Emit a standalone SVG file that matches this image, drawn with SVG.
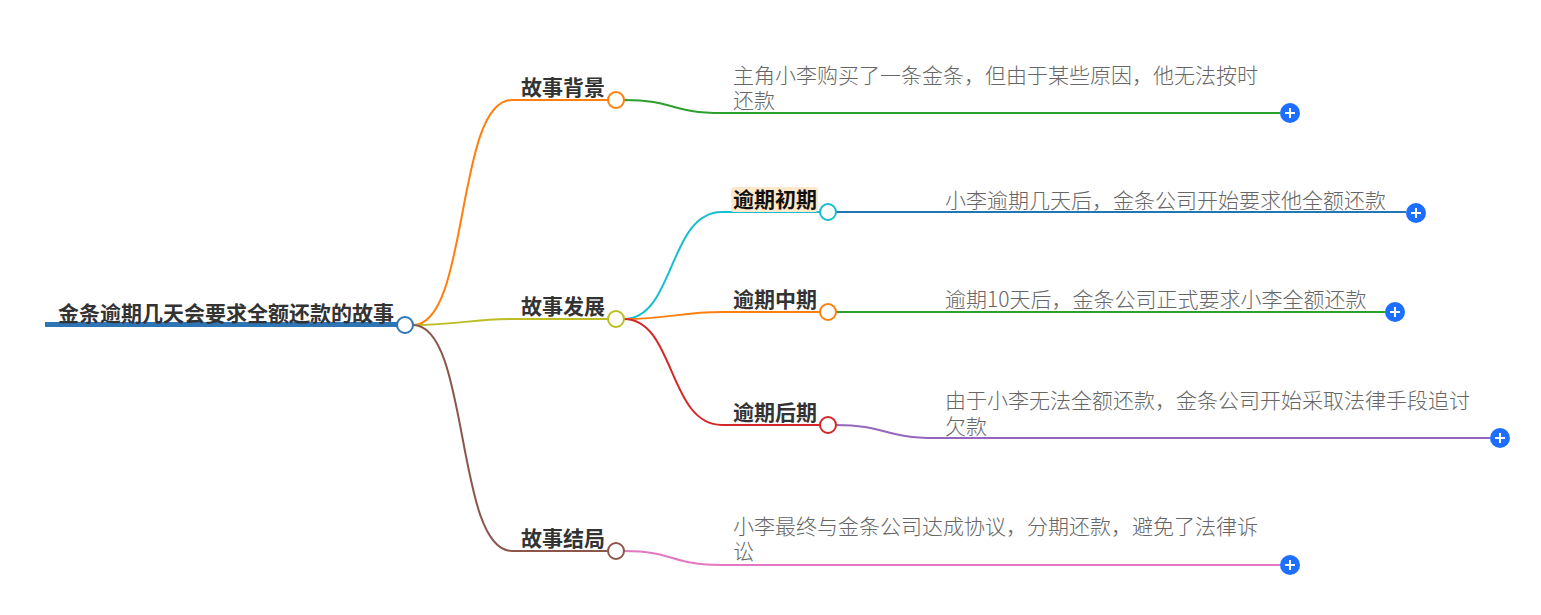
<svg xmlns="http://www.w3.org/2000/svg" width="1541" height="615" viewBox="0 0 1541 615">
<style>
text{font-family:"Noto Sans CJK SC","Noto Sans",sans-serif;font-size:21px}
.root{font-weight:bold;fill:#333}
.br{font-weight:bold;fill:#333}
.leaf{fill:#666;font-weight:300}
.c{fill:none;stroke-width:2}
.dot{fill:#fff;stroke-width:2}
.plus{fill:#1e6fff}
.pl{stroke:#fff;stroke-width:2;fill:none}
</style>
<rect width="1541" height="615" fill="#fff"/>
<g id="connectors">
<path class="c" stroke="#ff7f0e" d="M413,325 C470,325 455,100 512,100 L608,100"/>
<path class="c" stroke="#bcbd22" d="M413,325 C460,325 470,319 512,319 L608,319"/>
<path class="c" stroke="#8c564b" d="M413,325 C470,325 455,551 512,551 L608,551"/>
<path class="c" stroke="#2ca02c" d="M624,100 C675,100 670,113 722,113 L1280,113"/>
<path class="c" stroke="#17becf" d="M624,319 C675,319 668,212 722,212 L820,212"/>
<path class="c" stroke="#ff7f0e" d="M624,319 C670,319 680,312 722,312 L820,312"/>
<path class="c" stroke="#d62728" d="M624,319 C675,319 668,425 722,425 L820,425"/>
<path class="c" stroke="#e377c2" d="M624,551 C675,551 670,565 722,565 L1280,565"/>
<path class="c" stroke="#1f77b4" d="M836,212 L1406,212"/>
<path class="c" stroke="#2ca02c" d="M836,312 L1385,312"/>
<path class="c" stroke="#9467bd" d="M836,425 C885,425 885,438 935,438 L1490,438"/>
</g>
<g id="root">
<rect x="45" y="322" width="352" height="5" fill="#2e75b6"/>
<text class="root" x="58" y="321">金条逾期几天会要求全额还款的故事</text>
<circle class="dot" cx="405" cy="325" r="8" stroke="#2e75b6"/>
</g>
<g id="n-bg">
<text class="br" x="521" y="95">故事背景</text>
<circle class="dot" cx="616" cy="100" r="8" stroke="#ff7f0e"/>
</g>
<g id="n-fz">
<text class="br" x="521" y="314">故事发展</text>
<circle class="dot" cx="616" cy="319" r="8" stroke="#bcbd22"/>
</g>
<g id="n-jj">
<text class="br" x="521" y="546">故事结局</text>
<circle class="dot" cx="616" cy="551" r="8" stroke="#8c564b"/>
</g>
<g id="n-cq">
<rect x="731" y="187" width="87" height="25" rx="3" fill="#fde8cc"/>
<text class="br" x="733" y="207" style="fill:#111">逾期初期</text>
<circle class="dot" cx="828" cy="212" r="8" stroke="#17becf"/>
</g>
<g id="n-zq">
<text class="br" x="733" y="307">逾期中期</text>
<circle class="dot" cx="828" cy="312" r="8" stroke="#ff7f0e"/>
</g>
<g id="n-hq">
<text class="br" x="733" y="420">逾期后期</text>
<circle class="dot" cx="828" cy="425" r="8" stroke="#d62728"/>
</g>
<g id="l-bg">
<text class="leaf" x="733" y="83">主角小李购买了一条金条，但由于某些原因，他无法按时<tspan x="733" dy="25">还款</tspan></text>
<circle class="plus" cx="1290" cy="113" r="10"/>
<path class="pl" d="M1285,113 H1295 M1290,108 V118"/>
</g>
<g id="l-cq">
<text class="leaf" x="945" y="208">小李逾期几天后，金条公司开始要求他全额还款</text>
<circle class="plus" cx="1416" cy="213" r="10"/>
<path class="pl" d="M1411,213 H1421 M1416,208 V218"/>
</g>
<g id="l-zq">
<text class="leaf" x="945" y="307">逾期10天后，金条公司正式要求小李全额还款</text>
<circle class="plus" cx="1395" cy="312" r="10"/>
<path class="pl" d="M1390,312 H1400 M1395,307 V317"/>
</g>
<g id="l-hq">
<text class="leaf" x="945" y="408">由于小李无法全额还款，金条公司开始采取法律手段追讨<tspan x="945" dy="26">欠款</tspan></text>
<circle class="plus" cx="1500" cy="438" r="10"/>
<path class="pl" d="M1495,438 H1505 M1500,433 V443"/>
</g>
<g id="l-jj">
<text class="leaf" x="733" y="534">小李最终与金条公司达成协议，分期还款，避免了法律诉<tspan x="733" dy="25">讼</tspan></text>
<circle class="plus" cx="1290" cy="565" r="10"/>
<path class="pl" d="M1285,565 H1295 M1290,560 V570"/>
</g>
</svg>
